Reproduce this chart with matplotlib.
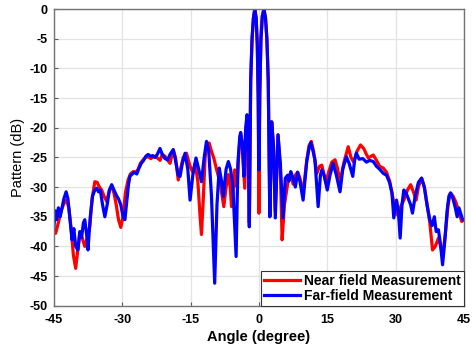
import matplotlib
matplotlib.use("Agg")
import matplotlib.pyplot as plt

plt.rcParams['font.family'] = ['Liberation Sans', 'DejaVu Sans']

# Near field measurement (red)
near_ang = [-45, -44.6, -44.0, -43.4, -42.8, -42.2, -41.7, -41.2, -40.7, -40.2, -39.8, -39.3, -38.8, -38.2,
            -37.6, -37.1, -36.6, -36.0, -35.5, -35.0, -34.5, -34.0, -33.4, -32.8, -32.3, -31.8, -31.3, -30.8,
            -30.3, -29.8, -29.3, -28.7, -28.2, -27.6, -27.0, -26.5, -26.0, -25.5, -24.9, -24.3, -23.7, -23.0,
            -22.4, -21.7, -21.2, -20.6, -20.0, -19.5, -18.8, -18.3, -17.7, -17.2, -16.6, -15.9, -15.1, -14.5,
            -14.0, -13.4, -12.9, -12.6, -12.2, -11.8, -11.4, -10.9, -10.4, -9.9, -9.3, -8.5, -7.7, -7.2, -6.7,
            -6.3, -6.0, -5.6, -5.3, -4.8, -4.4, -4.0, -3.6, -3.1, -2.8, -2.6, -2.3, -2.1,
            -1.8, -1.5, -1.2, -0.9, -0.6, -0.35, -0.15, 0.0, 0.2, 0.45, 0.75, 1.1, 1.45, 1.75, 2.05,
            2.4, 2.8, 3.2, 3.6, 4.2, 4.7, 5.1, 5.6, 6.1, 6.5, 7.0, 7.5, 8.0, 8.5, 9.0, 9.7, 10.5, 11.0, 11.5,
            12.0, 12.7, 13.3, 13.8, 14.7, 15.3, 16.0, 16.7, 17.3, 17.8, 18.6, 19.6, 20.2, 20.8, 21.5, 22.3,
            23.0, 23.6, 24.0, 25.1, 25.8, 26.5, 27.3, 28.0, 28.7, 29.5, 30.0, 30.4, 31.0, 31.8, 32.6, 33.3,
            34.0, 34.5, 35.0, 35.7, 36.3, 36.8, 37.5, 38.1, 38.7, 39.4, 39.9, 40.3, 40.9, 41.5, 42.0, 42.6,
            43.2, 43.8, 44.5, 45]
near_db = [-37.5, -37.8, -36, -34, -32.8, -32.2, -33.5, -37, -41.5, -43.7, -41, -37.8, -38.5, -40,
           -38.5, -36.6, -32, -29.1, -29.2, -30, -30.5, -31.5, -32.4, -30.5, -29.9, -31, -33, -35.5,
           -36.8, -35, -31, -28.8, -27.8, -27.4, -27.5, -27, -26, -25.5, -25, -24.9, -25.2, -24.8,
           -25.0, -25.5, -24.5, -24.8, -25.5, -26, -23.7, -25, -28.8, -27, -25, -24.3, -26.5, -27.5,
           -26.0, -29, -35, -38.0, -32, -25, -22.6, -22.6, -24, -25.1, -27, -29.3, -33.3, -30, -27.9,
           -30, -33.3, -30, -27.1, -30, -24, -21, -23.5, -30.2, -21, -18, -25, -36,
           -12, -5, -1.5, 0, -1.5, -6, -15, -34.4, -14, -5, -1.2, 0, -1.5, -5, -12,
           -35, -19, -23, -34, -21.2, -27, -38.9, -33, -30.5, -28.5, -27.5, -29.5, -28, -27.5, -28.5, -31,
           -25.5, -23, -22.3,
           -24, -27.7, -26.5, -26.3, -29.2, -27.5, -25.8, -25.4, -27, -29.3, -26, -23.2, -25, -25.8, -24,
           -22.9, -23.5, -24.5, -25.1, -24.6, -25.5, -26.5, -26.8, -27.5, -29, -32.2, -34, -34.7, -33.5,
           -32.2, -30.5, -29.6, -31, -32.2, -30, -28.5, -30, -32.5, -36, -40.6, -40, -38.6, -40, -41.7,
           -38, -33, -31, -31.5, -32.5, -34, -35.8, -35.5]

# Far-field measurement (blue)
far_ang = [-45, -44.7, -44.4, -44.0, -43.6, -43.2, -42.8, -42.3, -41.9, -41.5, -41.0, -40.6, -40.2, -39.7,
           -39.3, -38.9, -38.5, -38.2, -37.8, -37.5, -37.0, -36.5, -36.0, -35.6, -35.2, -34.8, -34.3, -33.8,
           -33.3, -32.8, -32.3, -31.8, -31.2, -30.8, -30.3, -29.8, -29.4, -29.0, -28.6, -28.3, -27.8, -27.3,
           -26.8, -26.3, -25.8, -25.3, -24.8, -24.3, -23.8, -23.3, -22.8, -22.3, -21.7, -21.2, -20.6, -20.0,
           -19.5, -18.8, -18.3, -17.7, -17.3, -16.8, -16.2, -15.6, -15.1, -14.5, -13.8, -13.2, -12.6, -12.0,
           -11.5, -11.0, -10.4, -9.7, -9.2, -8.7, -8.2, -7.8, -7.2, -6.7, -6.2, -5.7, -5.0, -4.6, -4.2, -4.0,
           -3.6, -3.3, -2.9, -2.6, -2.3, -2.1,
           -1.8, -1.5, -1.2, -0.9, -0.6, -0.35, -0.15, 0.0, 0.2, 0.45, 0.75, 1.1, 1.45, 1.75, 2.05,
           2.4, 2.8, 3.2, 3.6, 4.2, 4.7, 5.3, 5.8, 6.3, 6.6, 7.0, 7.5, 8.0, 8.5, 9.0, 9.7, 10.5, 11.0, 11.4,
           11.9, 12.3, 12.7, 13.0, 13.5, 13.8, 14.3, 15.0, 15.6, 16.3, 17.0, 17.8, 18.4, 19.2, 19.8, 20.6,
           21.0, 21.4, 22.0, 22.8, 23.6, 24.3, 25.1, 25.8, 26.5, 27.3, 28.0, 28.7, 29.2, 29.6, 30.2, 30.6,
           31.0, 31.4, 31.8, 32.3, 32.8, 33.3, 33.7, 34.3, 35.0, 35.7, 36.3, 36.9, 37.5, 38.0, 38.5, 38.9,
           39.4, 39.9, 40.3, 40.8, 41.3, 41.7, 42.1, 42.6, 43.1, 43.5, 43.9, 44.3, 44.7, 45]
far_db = [-37, -34, -35.5, -33.5, -35, -33.5, -32, -30.8, -32, -35, -38.9, -37, -40, -40.6,
          -37.5, -38.5, -36, -35.5, -38, -40.6, -35, -31.5, -30.5, -30.2, -30.8, -30.5, -33, -35,
          -33, -30.5, -29.6, -30.5, -31.5, -32, -33, -35, -35.5, -32.5, -29.5, -28.2, -27.8, -27.5,
          -27.8, -26.8, -26, -25.5, -24.8, -24.5, -24.8, -24.7, -25.0, -24.5, -23.5, -24.5, -25.2, -25.4,
          -24.5, -23.7, -25.5, -28, -28.2, -26, -24.3, -27, -32.2, -28, -25.1, -27, -29.1, -25,
          -22.3, -24, -31.6, -46.2, -33, -26.8, -29, -31.6, -27, -25.7, -27, -30, -41.7, -26, -21.5, -20.8,
          -23, -28.2, -20, -17.8, -25, -36.7,
          -12, -5, -1.5, 0, -1.5, -6, -15, -27.1, -14, -5, -1.2, 0, -1.5, -5, -12,
          -35, -19, -23, -35.2, -21.2, -26, -35.2, -28.5, -28, -29, -27.4, -28.5, -30, -27.5, -29, -32.2,
          -25.7, -23.5, -22.5,
          -24, -25.4, -29.9, -33.3, -28, -27.1, -28, -30.5, -28, -26, -28, -30.8, -27, -24.9, -26, -28.2,
          -25.5, -24.3, -25.3, -25.2, -25.8, -25.5, -25.7, -26.5, -27, -27.7, -28, -29.3, -31, -35.2,
          -32.2, -34, -38.6, -33, -30.5, -31, -32, -33, -34.4, -31.5, -29.2, -28.5, -30, -33, -35.5,
          -36.5, -35, -37.5, -37.2, -40, -43.1, -39, -34, -31.5, -31, -32, -33.5, -35, -33.5, -34.5,
          -35.5, -35.5]

x_ticks = [-45, -30, -15, 0, 15, 30, 45]
y_ticks = [-50, -45, -40, -35, -30, -25, -20, -15, -10, -5, 0]

fig = plt.figure(figsize=(4.72, 3.49), dpi=100)
ax = fig.add_axes([0.114, 0.124, 0.869, 0.850])

ax.plot(near_ang, near_db, color='#ff0000', lw=2.3, label='Near field Measurement')
ax.plot(far_ang, far_db, color='#0000ff', lw=2.3, label='Far-field Measurement')

ax.set_xlim(-45, 45)
ax.set_ylim(-50, 0)
ax.set_xticks(x_ticks)
ax.set_yticks(y_ticks)
ax.set_xticklabels([str(t) for t in x_ticks], fontweight='bold', fontsize=9)
ax.set_yticklabels([str(t) for t in y_ticks], fontweight='bold', fontsize=9)
ax.tick_params(axis='x', direction='in', length=3, color='0.35', pad=6)
ax.tick_params(axis='y', direction='in', length=3, color='0.35', pad=4.5)
ax.grid(True, color='#e3e3e3', lw=0.9)
ax.set_axisbelow(True)
for s in ax.spines.values():
    s.set_color('0.45')
    s.set_linewidth(1.0)

ax.set_xlabel('Angle (degree)', fontweight='bold', fontsize=10.5, labelpad=3)
ax.set_ylabel('Pattern (dB)', fontsize=10.5, labelpad=3)

leg = ax.legend(loc='lower right', prop={'weight': 'bold', 'size': 10},
                fancybox=False, framealpha=1, edgecolor='0.2', borderaxespad=0.0,
                handlelength=2.6, handletextpad=0.3, borderpad=0.2, labelspacing=0.05)
leg.get_frame().set_linewidth(0.8)

fig.savefig('out.png', dpi=100)
